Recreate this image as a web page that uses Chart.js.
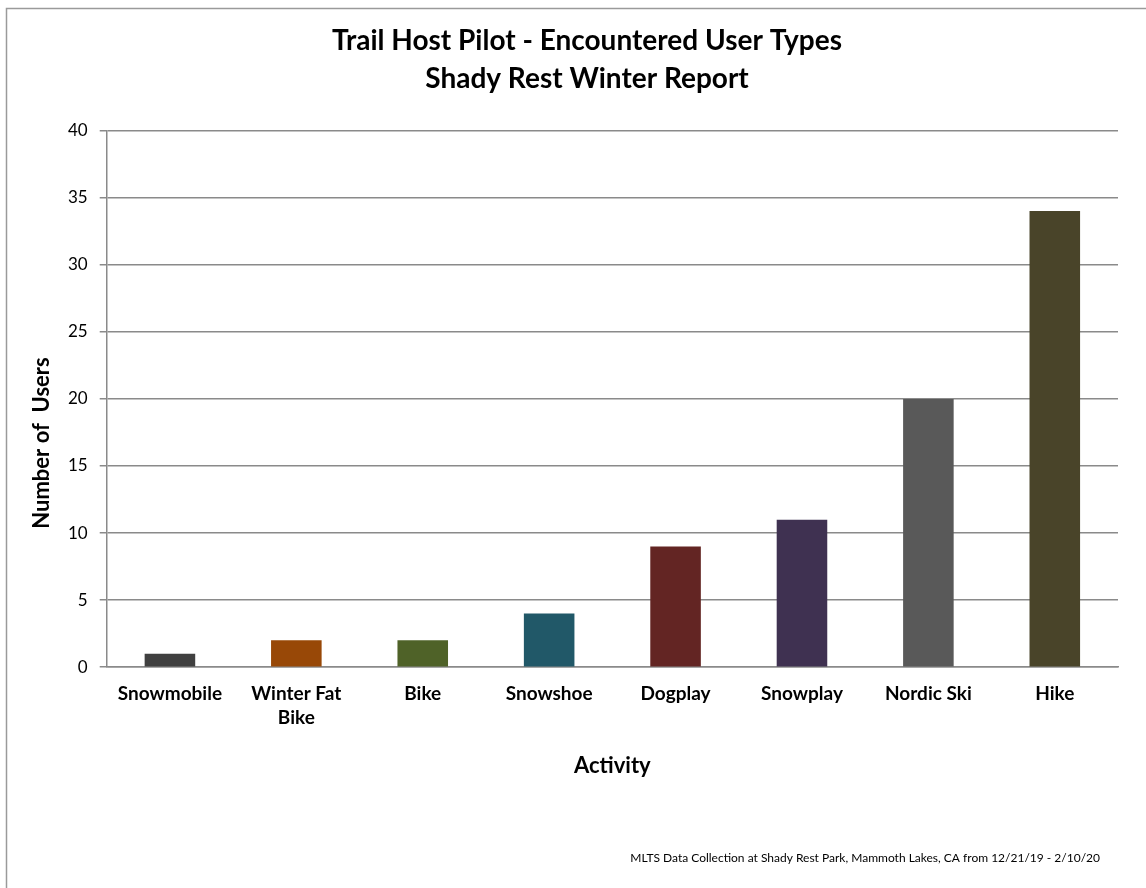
<!DOCTYPE html>
<html>
<head>
<meta charset="utf-8">
<script src="https://cdn.jsdelivr.net/npm/chart.js@4/dist/chart.umd.min.js"></script>
<style>
  html, body { margin: 0; padding: 0; background: #fff; }
  #wrap { width: 1146px; height: 888px; }
</style>
</head>
<body>
<div id="wrap"><canvas id="chart"></canvas></div>
<script>
// chart data
const activities = ['Snowmobile', ['Winter Fat', 'Bike'], 'Bike', 'Snowshoe', 'Dogplay', 'Snowplay', 'Nordic Ski', 'Hike'];
const userCounts = [1, 2, 2, 4, 9, 11, 20, 34];
const barColors = ['#404040', '#984807', '#4f6228', '#215868', '#632523', '#3f3151', '#595959', '#494429'];
const titleLines = ['Trail Host Pilot - Encountered User Types', 'Shady Rest Winter Report'];
const yTitle = 'Number of  Users';
const footnote = 'MLTS Data Collection at Shady Rest Park, Mammoth Lakes, CA from 12/21/19 - 2/10/20';

const FONT = 'Lato, "Open Sans", sans-serif';

// frame, rotated y title and footnote (Excel places these off the plot centre)
const extrasPlugin = {
  id: 'extras',
  beforeDraw(chart) {
    const ctx = chart.ctx;
    ctx.save();
    ctx.fillStyle = '#fff';
    ctx.fillRect(0, 0, chart.width, chart.height);
    ctx.strokeStyle = '#9a9a9a';
    ctx.lineWidth = 1.5;
    ctx.strokeRect(6.5, 8.5, chart.width + 20, chart.height + 20);
    ctx.restore();
  },
  afterDraw(chart) {
    const ctx = chart.ctx;
    ctx.save();
    ctx.fillStyle = '#000';
    ctx.textBaseline = 'middle';

    ctx.save();
    ctx.translate(42, 443);
    ctx.rotate(-Math.PI / 2);
    ctx.textAlign = 'center';
    ctx.font = 'bold 22px ' + FONT;
    ctx.fillText(yTitle, 0, 0);
    ctx.restore();

    ctx.textAlign = 'right';
    ctx.font = '12px ' + FONT;
    ctx.fillText(footnote, 1100, 858);
    ctx.restore();
  }
};

const ctx = document.getElementById('chart').getContext('2d');
new Chart(ctx, {
  type: 'bar',
  data: {
    labels: activities,
    datasets: [{
      label: 'Number of Users',
      data: userCounts,
      backgroundColor: barColors,
      borderWidth: 0,
      barPercentage: 0.4,
      categoryPercentage: 1
    }]
  },
  options: {
    responsive: true,
    maintainAspectRatio: false,
    animation: false,
    layout: { padding: { left: 56, right: 28, top: 14, bottom: 109 } },
    plugins: {
      legend: { display: false },
      tooltip: { enabled: false },
      title: {
        display: true,
        text: titleLines,
        color: '#000',
        font: { family: FONT, size: 28, weight: 'bold', lineHeight: 1.35 },
        padding: { top: 8, bottom: 33 }
      }
    },
    scales: {
      y: {
        min: 0,
        max: 40,
        ticks: {
          stepSize: 5,
          color: '#000',
          padding: 12,
          font: { family: FONT, size: 17 }
        },
        grid: {
          color: '#8a8a8a',
          lineWidth: 1.5,
          tickLength: 7,
          drawTicks: true
        },
        border: { display: true, color: '#8a8a8a', width: 1.5 }
      },
      x: {
        grid: { display: false },
        border: { display: true, color: '#8a8a8a', width: 1.5 },
        ticks: {
          color: '#000',
          padding: 6,
          maxRotation: 0,
          font: { family: FONT, size: 19, weight: 'bold', lineHeight: 1.3 }
        },
        title: {
          display: true,
          text: 'Activity',
          color: '#000',
          font: { family: FONT, size: 22, weight: 'bold' },
          padding: { top: 16, bottom: 0 }
        }
      }
    }
  },
  plugins: [extrasPlugin]
});
</script>
</body>
</html>
